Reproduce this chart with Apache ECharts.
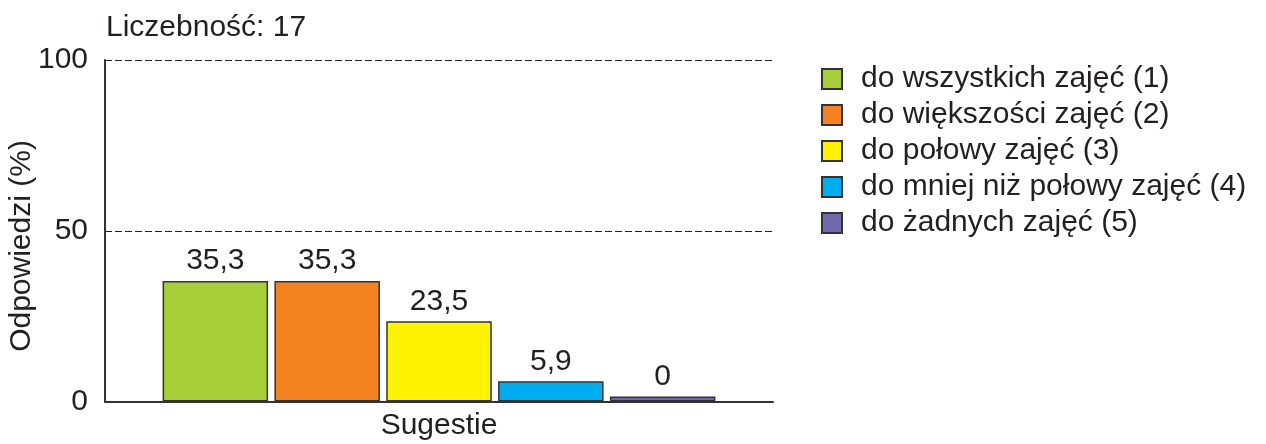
<!DOCTYPE html>
<html>
<head>
<meta charset="utf-8">
<script src="https://cdn.jsdelivr.net/npm/echarts@6/dist/echarts.min.js"></script>
<style>
  html, body { margin: 0; padding: 0; background: #ffffff; }
  #chart { width: 1266px; height: 444px; }
</style>
</head>
<body>
<div id="chart"></div>
<script>
// ---- data ----
const titleText = 'Liczebność: 17';
const categories = ['Sugestie'];
const seriesNames = [
  'do wszystkich zajęć (1)',
  'do większości zajęć (2)',
  'do połowy zajęć (3)',
  'do mniej niż połowy zajęć (4)',
  'do żadnych zajęć (5)'
];
const seriesValues = [35.3, 35.3, 23.5, 5.9, 0];
const yAxisName = 'Odpowiedzi (%)';
const yMin = 0, yMax = 100, yInterval = 50;

// ---- styles ----
const colors = ['#a6ce39', '#f58220', '#fff200', '#00aeef', '#7069ad'];
const FONT = "'Liberation Sans', Arial, Helvetica, sans-serif";
const TXT = '#231f20';

const chart = echarts.init(document.getElementById('chart'), null, { renderer: 'canvas' });

const series = seriesNames.map((name, i) => ({
  name: name,
  type: 'bar',
  data: [seriesValues[i]],
  barWidth: 105.5,
  barGap: '6%',
  barMinHeight: 5,
  itemStyle: { color: colors[i], borderColor: '#333333', borderWidth: 1.5 },
  label: {
    show: true,
    position: 'top',
    distance: 5,
    fontFamily: FONT,
    fontSize: 30,
    color: TXT,
    formatter: p => String(p.value).replace('.', ',')
  },
  emphasis: { disabled: true },
  animation: false
}));

chart.setOption({
  animation: false,
  backgroundColor: '#ffffff',
  textStyle: { fontFamily: FONT, color: TXT },
  title: {
    text: titleText,
    left: 101,
    top: 8,
    textStyle: { fontFamily: FONT, fontSize: 30, fontWeight: 'normal', color: TXT }
  },
  legend: {
    orient: 'vertical',
    left: 816,
    top: 59,
    icon: 'rect',
    itemWidth: 20,
    itemHeight: 20,
    itemGap: 6,
    selectedMode: false,
    data: seriesNames,
    textStyle: {
      fontFamily: FONT,
      fontSize: 30,
      lineHeight: 30,
      color: TXT,
      padding: [0, 0, 0, 14]
    }
  },
  graphic: [{
    type: 'text',
    x: 22,
    y: 246,
    rotation: Math.PI / 2,
    style: {
      text: yAxisName,
      font: "30px 'Liberation Sans', Arial, sans-serif",
      fill: TXT,
      align: 'center',
      verticalAlign: 'middle'
    }
  }],
  grid: {
    left: 105,
    right: 493,
    top: 60,
    bottom: 42.5,
    containLabel: false,
    outerBoundsMode: 'none'
  },
  xAxis: {
    type: 'category',
    data: categories,
    axisLine: { show: true, lineStyle: { color: '#333333', width: 2 } },
    axisTick: { show: false },
    axisLabel: { fontFamily: FONT, fontSize: 30, color: TXT, margin: 9 },
    splitLine: { show: false }
  },
  yAxis: {
    type: 'value',
    min: yMin,
    max: yMax,
    interval: yInterval,
    axisLine: { show: true, lineStyle: { color: '#333333', width: 2 } },
    axisTick: { show: false },
    axisLabel: { fontFamily: FONT, fontSize: 30, color: TXT, margin: 17 },
    splitLine: { show: true, lineStyle: { color: TXT, width: 1, type: [7, 3] } }
  },
  series: series
});
</script>
</body>
</html>
